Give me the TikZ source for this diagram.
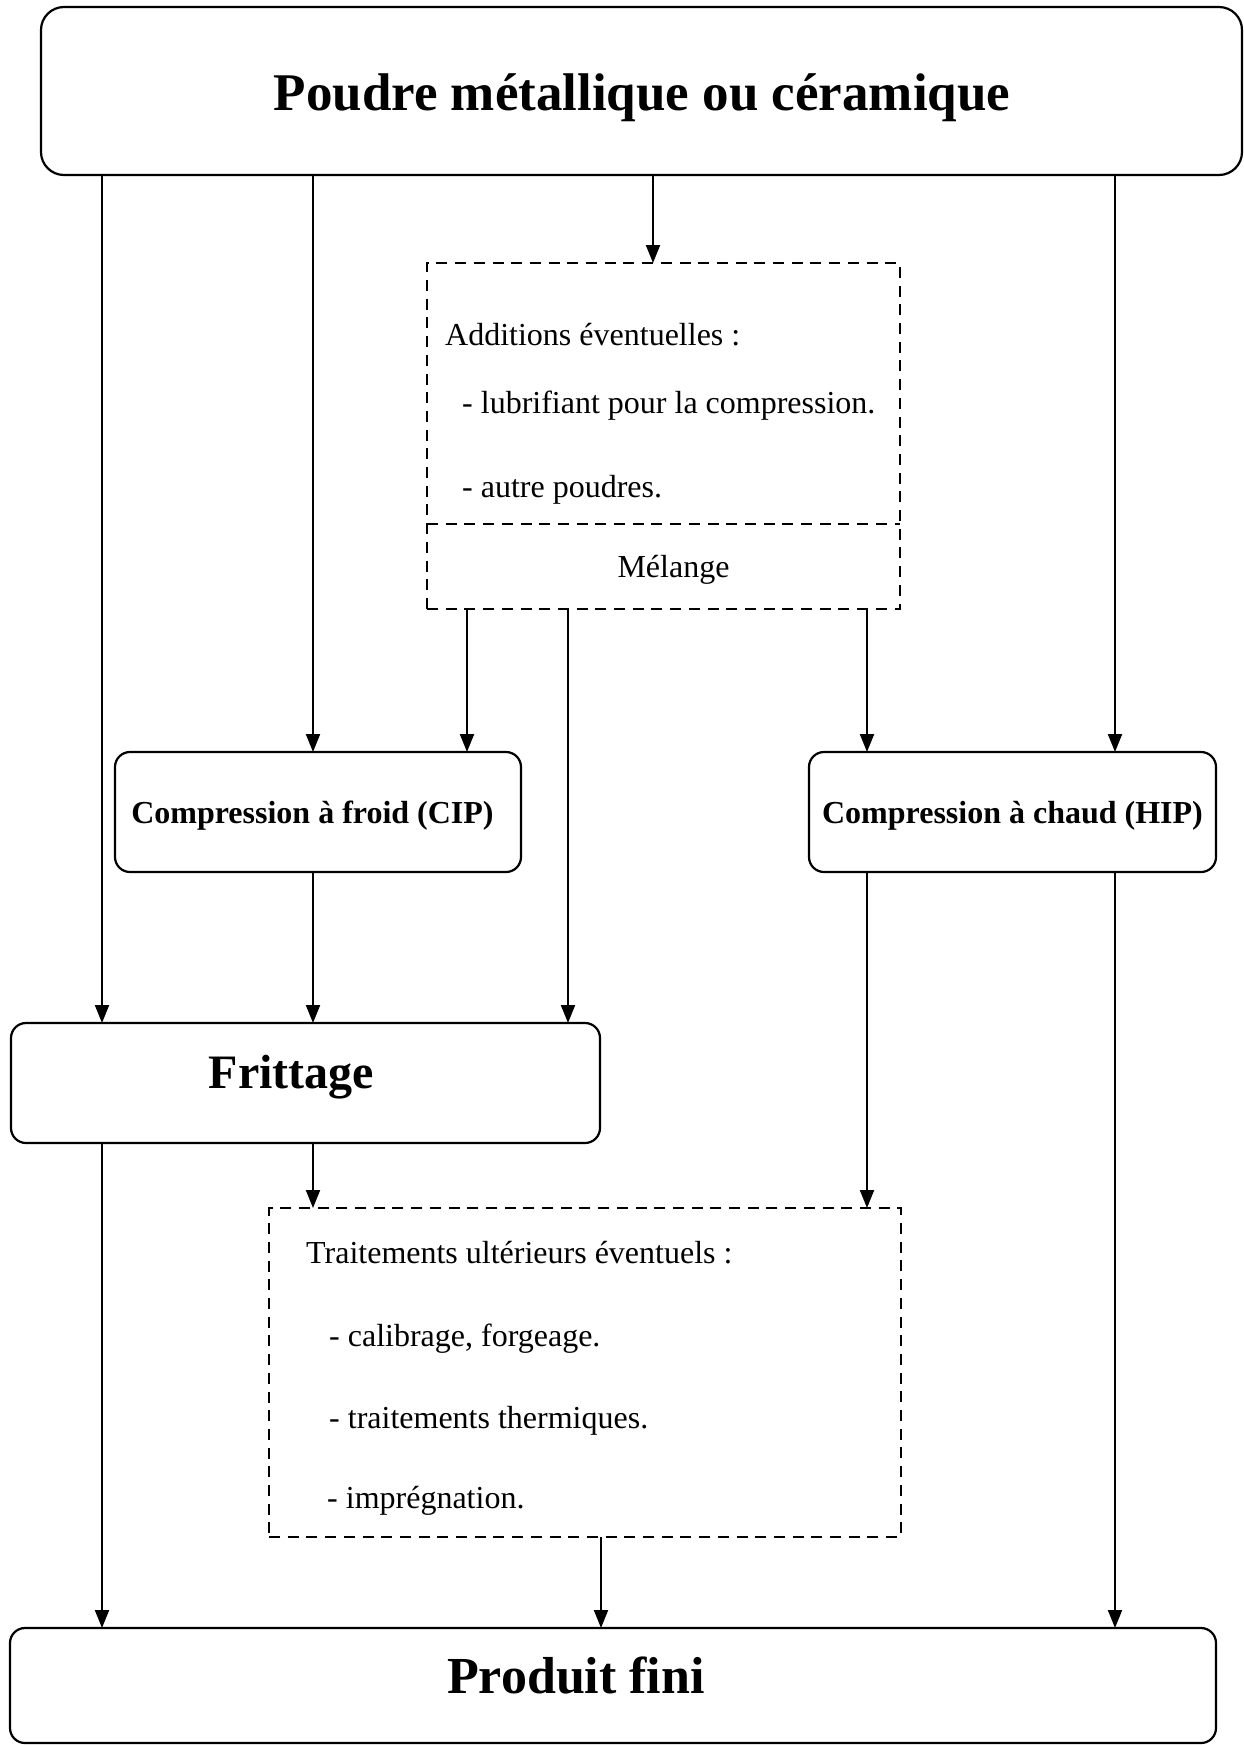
\documentclass[tikz,border=0pt]{standalone}
\usepackage{fontspec}
\setmainfont{Liberation Serif}
\usetikzlibrary{arrows.meta}
\begin{document}
\begin{tikzpicture}[x=1pt,y=-1pt,
  solidbox/.style={draw, line width=2.2pt, rounded corners=15pt, inner sep=0pt, outer sep=0pt},
  dashline/.style={line width=2.8pt, dash pattern=on 11pt off 7.7pt},
  dashbox/.style={draw, dashline, inner sep=0pt, outer sep=0pt},
  conn/.style={line width=2pt, -{Triangle[length=18pt,width=14pt]}},
  bigtxt/.style={font=\bfseries\fontsize{#1}{#1}\selectfont, anchor=base, inner sep=0pt},
  midtxt/.style={font=\bfseries\fontsize{32}{36}\selectfont, anchor=base, inner sep=0pt},
  plaintxt/.style={font=\fontsize{32}{36}\selectfont, anchor=base west, inner sep=0pt},
  ]
\useasboundingbox (0,0) rectangle (1244,1745);

% boxes
\node[solidbox, rounded corners=23pt, minimum width=1201pt, minimum height=168pt] (top) at (641.5,91) {};
\node[dashbox, minimum width=473pt, minimum height=346pt] (add) at (663.5,436) {};
\coordinate (div) at (0,524);
\draw[dashline] (add.west |- div) -- (add.east |- div);
\node[solidbox, minimum width=406pt, minimum height=120pt] (cip) at (318,812) {};
\node[solidbox, minimum width=407pt, minimum height=120pt] (hip) at (1012.5,812) {};
\node[solidbox, minimum width=589pt, minimum height=120pt] (frit) at (305.5,1083) {};
\node[dashbox, minimum width=632pt, minimum height=329pt] (trait) at (585,1372.5) {};
\node[solidbox, minimum width=1206pt, minimum height=115pt] (prod) at (613,1685.5) {};

% texts
\node[bigtxt=53] (ttop) at (642,110) {Poudre métallique ou céramique};
\node[bigtxt=48] (tfrit) at (291.5,1088) {Frittage};
\node[bigtxt=52] (tprod) at (576,1693) {Produit fini};
\node[midtxt] (tcip) at (312.5,823) {Compression à froid (CIP)};
\node[midtxt] (thip) at (1012.5,823) {Compression à chaud (HIP)};
\node[plaintxt, anchor=base] (tmel) at (673.5,577) {Mélange};
\node[plaintxt] (ta1) at (445,345) {Additions éventuelles :};
\node[plaintxt] (ta2) at (462,413) {- lubrifiant pour la compression.};
\node[plaintxt] (ta3) at (462,497) {- autre poudres.};
\node[plaintxt] (tt1) at (306,1263) {Traitements ultérieurs éventuels :};
\node[plaintxt] (tt2) at (329,1346) {- calibrage, forgeage.};
\node[plaintxt] (tt3) at (329,1428) {- traitements thermiques.};
\node[plaintxt] (tt4) at (327,1508) {- imprégnation.};

% column coordinates
\coordinate (x1) at (102,0);
\coordinate (x2) at (313,0);
\coordinate (x3) at (653,0);
\coordinate (x4) at (1115,0);
\coordinate (xa) at (467,0);
\coordinate (xb) at (568,0);
\coordinate (xc) at (867,0);
\coordinate (xd) at (601,0);

% connectors
\draw[conn] (top.south -| x1) -- (frit.north -| x1);
\draw[conn] (top.south -| x2) -- (cip.north -| x2);
\draw[conn] (top.south -| x3) -- (add.north -| x3);
\draw[conn] (top.south -| x4) -- (hip.north -| x4);
\draw[conn] (add.south -| xa) -- (cip.north -| xa);
\draw[conn] (add.south -| xb) -- (frit.north -| xb);
\draw[conn] (add.south -| xc) -- (hip.north -| xc);
\draw[conn] (cip.south -| x2) -- (frit.north -| x2);
\draw[conn] (hip.south -| xc) -- (trait.north -| xc);
\draw[conn] (hip.south -| x4) -- (prod.north -| x4);
\draw[conn] (frit.south -| x1) -- (prod.north -| x1);
\draw[conn] (frit.south -| x2) -- (trait.north -| x2);
\draw[conn] (trait.south -| xd) -- (prod.north -| xd);
\end{tikzpicture}
\end{document}
